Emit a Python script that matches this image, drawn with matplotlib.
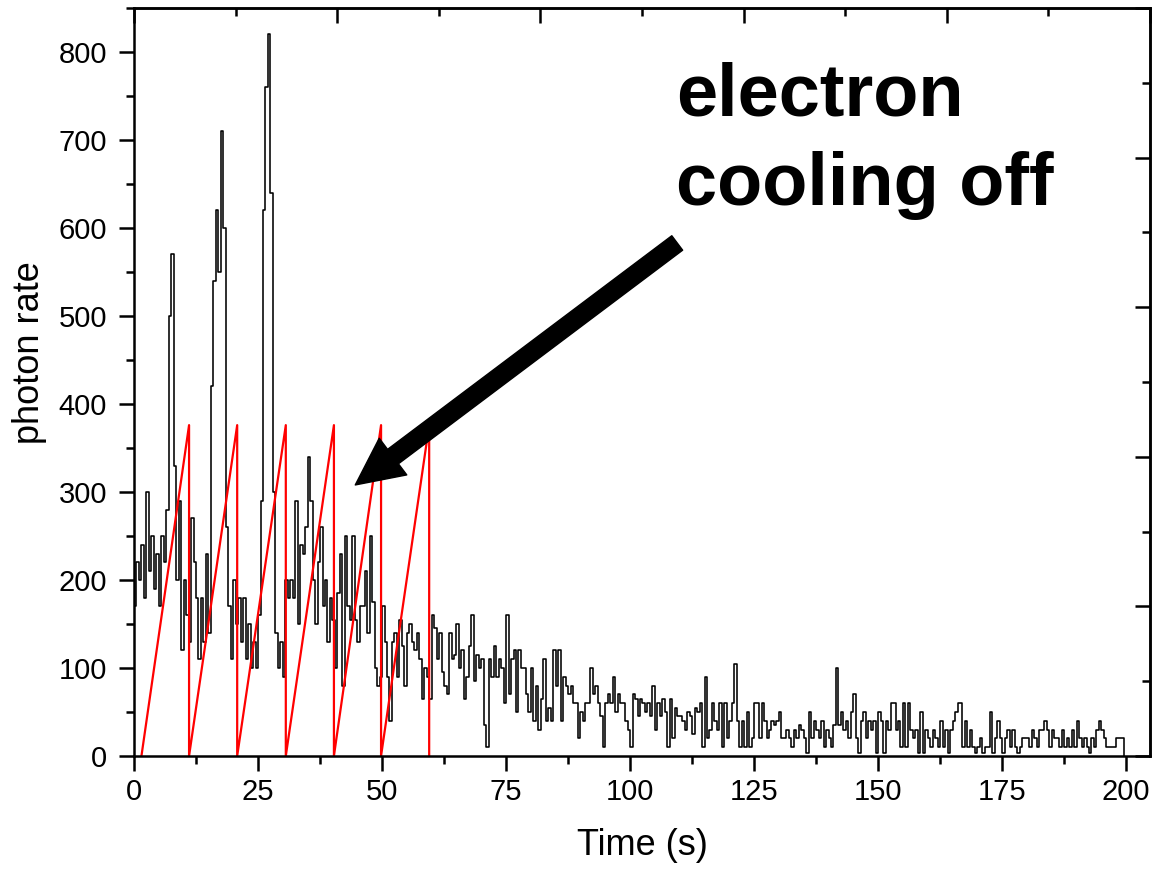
import numpy as np
import matplotlib.pyplot as plt
from matplotlib.ticker import MultipleLocator, NullFormatter

plt.rcParams['font.family'] = ['Liberation Sans', 'DejaVu Sans']

# photon rate in 0.5 s bins, one row per 10 s
time_step = 0.5
rate_rows = [
    [170, 220, 200, 240, 180, 300, 210, 250, 190, 230, 170, 250, 220, 280, 500, 570, 330, 200, 290, 120],
    [200, 160, 130, 270, 220, 180, 110, 180, 130, 230, 140, 420, 540, 620, 550, 710, 600, 260, 170, 110],
    [200, 150, 180, 130, 180, 110, 150, 100, 130, 100, 160, 290, 620, 760, 820, 640, 300, 140, 100, 130],
    [90, 200, 180, 200, 180, 290, 150, 240, 230, 260, 340, 290, 200, 150, 220, 260, 170, 200, 130, 180],
    [155, 100, 185, 230, 80, 250, 170, 155, 250, 155, 130, 170, 170, 210, 140, 250, 175, 100, 80, 90],
    [170, 130, 90, 40, 130, 140, 90, 155, 125, 80, 140, 150, 130, 120, 140, 110, 65, 100, 90, 65],
    [160, 145, 110, 140, 95, 80, 70, 140, 110, 115, 150, 100, 120, 65, 90, 125, 160, 85, 115, 100],
    [110, 35, 10, 110, 90, 125, 90, 110, 100, 60, 160, 70, 110, 120, 50, 120, 100, 100, 70, 50],
    [100, 40, 80, 30, 65, 110, 40, 55, 40, 120, 80, 120, 40, 90, 80, 70, 80, 60, 60, 20],
    [50, 40, 60, 60, 100, 70, 80, 60, 45, 10, 60, 70, 60, 90, 50, 70, 60, 60, 40, 30],
    [10, 70, 65, 45, 65, 60, 50, 60, 45, 80, 30, 60, 45, 65, 50, 10, 65, 20, 55, 45],
    [45, 40, 30, 50, 45, 25, 55, 50, 60, 10, 90, 20, 30, 60, 40, 30, 60, 10, 60, 20],
    [40, 60, 105, 40, 10, 40, 10, 50, 10, 20, 60, 60, 20, 60, 40, 20, 30, 40, 35, 40],
    [50, 20, 20, 30, 20, 10, 30, 20, 35, 30, 20, 3, 50, 20, 40, 30, 20, 40, 10, 30],
    [20, 10, 35, 100, 35, 50, 30, 40, 20, 50, 70, 20, 3, 40, 50, 20, 40, 30, 40, 3],
    [50, 40, 3, 40, 30, 60, 60, 30, 40, 10, 60, 10, 60, 30, 20, 30, 3, 50, 3, 30],
    [20, 10, 30, 20, 10, 40, 10, 30, 3, 30, 40, 50, 60, 60, 10, 40, 10, 30, 10, 3],
    [10, 20, 3, 10, 10, 50, 3, 20, 40, 20, 3, 20, 30, 10, 30, 10, 3, 10, 20, 20],
    [20, 10, 30, 20, 10, 30, 30, 40, 30, 10, 30, 20, 20, 10, 30, 10, 20, 10, 30, 10],
    [40, 20, 10, 20, 10, 3, 20, 10, 30, 40, 30, 20, 10, 10, 10, 10, 20, 20, 20, 0],
]

# red sawtooth (cooling ramp)
ramp_start = 1.5
ramp_peaks = [11.1, 20.8, 30.6, 40.3, 49.8, 59.5]
ramp_top = 376

rate = np.concatenate(rate_rows)
t = np.arange(len(rate)) * time_step

saw_x = [ramp_start]
saw_y = [0]
for p in ramp_peaks:
    saw_x += [p, p]
    saw_y += [ramp_top, 0]

fig = plt.figure(figsize=(11.57, 8.73), dpi=100)
ax = fig.add_axes([134 / 1157, 117 / 873, 1016 / 1157, 748 / 873])

ax.plot(t, rate, color='black', lw=1.15, drawstyle='steps-post')
ax.plot(saw_x, saw_y, color='#ff0000', lw=1.6)

ax.set_xlim(0, 204.8)
ax.set_ylim(0, 850)
ax.xaxis.set_major_locator(MultipleLocator(25))
ax.xaxis.set_minor_locator(MultipleLocator(12.5))
ax.yaxis.set_major_locator(MultipleLocator(100))
ax.yaxis.set_minor_locator(MultipleLocator(50))
ax.tick_params(which='major', direction='out', length=11, width=1.8, labelsize=21)
ax.tick_params(which='minor', direction='out', length=6, width=1.8)
ax.tick_params(axis='x', which='major', pad=4.5)
ax.tick_params(axis='y', which='major', pad=8.5)
for s in ax.spines.values():
    s.set_linewidth(1.8)

# top and right axes of the original plot (ticks only)
top = ax.secondary_xaxis('top', functions=(lambda x: x / 40.96, lambda x: x * 40.96))
top.xaxis.set_major_locator(MultipleLocator(1))
top.xaxis.set_minor_locator(MultipleLocator(0.5))
top.xaxis.set_major_formatter(NullFormatter())
top.tick_params(which='major', direction='in', length=11, width=1.8)
top.tick_params(which='minor', direction='in', length=6, width=1.8)
top.spines['top'].set_linewidth(1.8)

right = ax.secondary_yaxis('right', functions=(lambda y: y / 85, lambda y: y * 85))
right.yaxis.set_major_locator(MultipleLocator(2))
right.yaxis.set_minor_locator(MultipleLocator(1))
right.yaxis.set_major_formatter(NullFormatter())
right.tick_params(which='major', direction='in', length=11, width=1.8)
right.tick_params(which='minor', direction='in', length=6, width=1.8)
right.spines['right'].set_linewidth(1.8)

ax.set_xlabel('Time (s)', fontsize=26)
ax.set_ylabel('photon rate', fontsize=26)
ax.xaxis.set_label_coords(0.5, -0.096)
ax.yaxis.set_label_coords(-0.0856, 0.539)

ax.text(109.3, 728, 'electron', fontsize=53.3, fontweight='bold', ha='left', va='baseline')
ax.text(109.3, 626, 'cooling off', fontsize=53.3, fontweight='bold', ha='left', va='baseline')
ax.annotate('', xy=(44.6, 308), xytext=(109.5, 583),
            arrowprops=dict(arrowstyle='simple,head_length=1.7,head_width=1.65,tail_width=0.65',
                            color='black', shrinkA=0, shrinkB=0, mutation_scale=20))

fig.savefig('out.png', dpi=100)
